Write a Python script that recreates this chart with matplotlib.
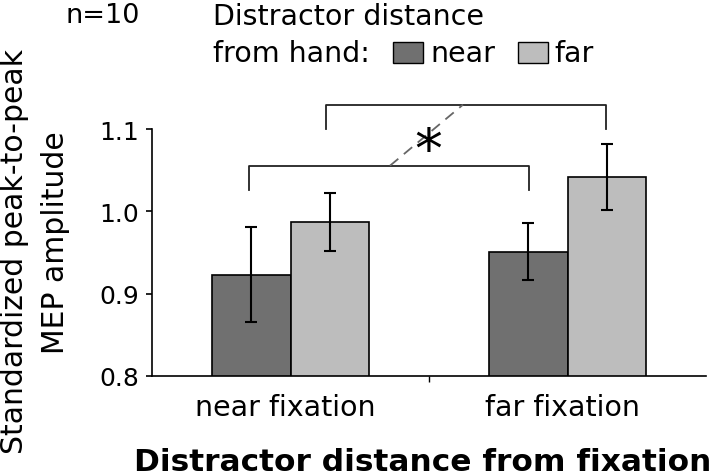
import matplotlib
matplotlib.use("Agg")
import matplotlib.pyplot as plt
import numpy as np
from matplotlib.patches import Rectangle
from matplotlib.transforms import blended_transform_factory

plt.rcParams['font.family'] = ['DejaVu Sans']

categories = ["near fixation", "far fixation"]
series_names = ["near", "far"]
near_vals = [0.923, 0.951]
near_err = [0.058, 0.035]
far_vals = [0.987, 1.042]
far_err = [0.035, 0.040]
yticks = [0.8, 0.9, 1.0, 1.1]
ytick_labels = ["0.8", "0.9", "1.0", "1.1"]

W, H = 720, 477
fig = plt.figure(figsize=(W/100, H/100), dpi=100)
ax = fig.add_axes([152/W, 1-377/H, (706-152)/W, (377-130)/H])

def fy(p):
    return 1 - p / H

def fx(p):
    return p / W

x = np.arange(len(categories))
bw = 0.285
dark = "#707070"
light = "#bdbdbd"
ax.bar(x - bw/2, near_vals, bw, color=dark, edgecolor="black", linewidth=1.2, zorder=2)
ax.bar(x + bw/2, far_vals, bw, color=light, edgecolor="black", linewidth=1.2, zorder=2)
ax.errorbar(x - bw/2, near_vals, yerr=near_err, fmt="none", ecolor="black", elinewidth=1.5,
            capsize=4.5, capthick=1.5, zorder=3)
ax.errorbar(x + bw/2, far_vals, yerr=far_err, fmt="none", ecolor="black", elinewidth=1.5,
            capsize=4.5, capthick=1.5, zorder=3)

ax.set_ylim(0.8, 1.1)
ax.set_xlim(-0.5, 1.5)
ax.set_yticks(yticks)
ax.set_yticklabels(ytick_labels, fontsize=18)
ax.set_xticks([0.5])
ax.set_xticklabels([""])
ax.tick_params(axis="x", direction="out", length=4, width=1)
ax.tick_params(axis="y", direction="out", length=4.5, width=1.2, pad=5)
for s in ["top", "right"]:
    ax.spines[s].set_visible(False)
ax.spines["left"].set_linewidth(1.2)
ax.spines["bottom"].set_linewidth(1.2)
ax.set_facecolor("none")

# category labels
tr = blended_transform_factory(ax.transData, fig.transFigure)
for i, c in enumerate(categories):
    ax.text(i - 0.02, fy(416), c, ha="center", va="baseline", fontsize=20.5, transform=tr)

def ypix(p):
    return 0.8 + (377 - p) / 823.3

def xpix(p):
    return -0.5 + (p - 152) / 277

lw = 1.3
y_h1 = ypix(166.7)
y_d1 = ypix(190.7)
ax.plot([xpix(249), xpix(249), xpix(528.7), xpix(528.7)], [y_d1, y_h1, y_h1, y_d1],
        color="#222222", lw=lw, clip_on=False)
y_h2 = ypix(105.7)
y_d2 = ypix(130)
ax.plot([xpix(326.3), xpix(326.3), xpix(606), xpix(606)], [y_d2, y_h2, y_h2, y_d2],
        color="#222222", lw=lw, clip_on=False)
ax.plot([xpix(390), xpix(463)], [y_h1, y_h2],
        color="#666666", lw=1.3, ls=(0, (6, 4)), clip_on=False)
ax.text(xpix(428), ypix(168), "*", fontsize=40, ha="center", va="baseline", clip_on=False)

# y label (two lines)
fig.text(fx(15), fy(252), "Standardized peak-to-peak", rotation=90,
         ha="center", va="center", fontsize=21.5)
fig.text(fx(55), fy(243), "MEP amplitude", rotation=90,
         ha="center", va="center", fontsize=21.5)

# x label
fig.text(fx(423), fy(471), "Distractor distance from fixation", ha="center", va="baseline",
         fontsize=22.5, fontweight="bold")

# legend / header
fig.text(fx(65), fy(23), "n=10", ha="left", va="baseline", fontsize=19.5)
fig.text(fx(213), fy(25), "Distractor distance", ha="left", va="baseline", fontsize=20.5)
fig.text(fx(213), fy(62), "from hand:", ha="left", va="baseline", fontsize=20.5)
fig.patches.append(Rectangle((fx(393), fy(64)), 30/W, 21/H, transform=fig.transFigure,
                             facecolor=dark, edgecolor="black", lw=1))
fig.text(fx(430), fy(62), series_names[0], ha="left", va="baseline", fontsize=20.5)
fig.patches.append(Rectangle((fx(518), fy(64)), 30/W, 21/H, transform=fig.transFigure,
                             facecolor=light, edgecolor="black", lw=1))
fig.text(fx(554), fy(62), series_names[1], ha="left", va="baseline", fontsize=20.5)

fig.savefig("out.png", dpi=100)
